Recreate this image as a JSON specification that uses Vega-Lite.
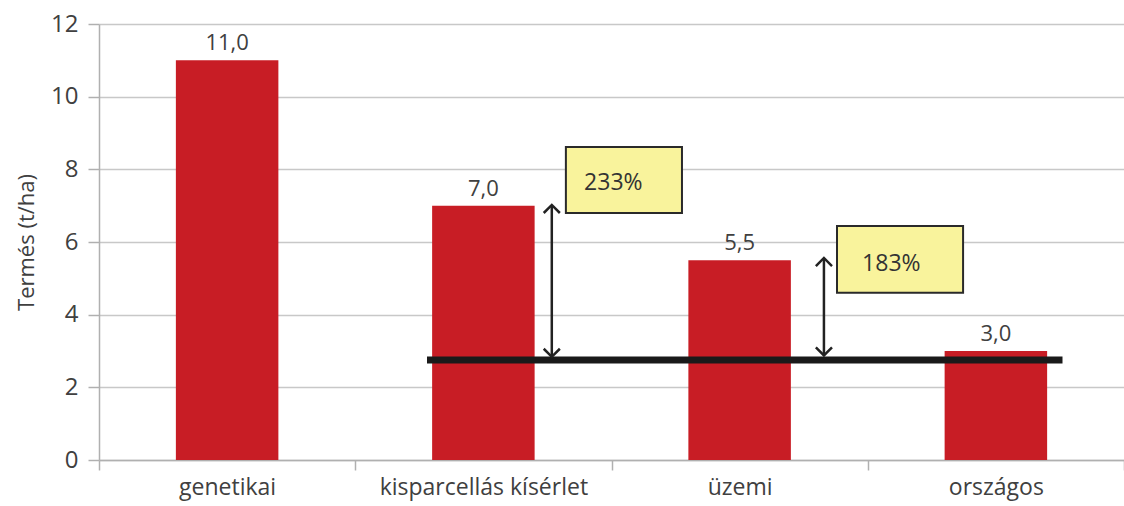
{
  "$schema": "https://vega.github.io/schema/vega-lite/v6.json",
  "width": 1025,
  "height": 436,
  "autosize": {"type": "none"},
  "padding": {"left": 99, "top": 24, "right": 0, "bottom": 46},
  "background": "white",
  "config": {
    "view": {"stroke": null},
    "font": "Open Sans",
    "axisY": {
      "titleFontSize": 22,
      "titleFontWeight": "normal",
      "titleColor": "#404040",
      "titlePadding": 12,
      "labelFontSize": 24,
      "labelColor": "#404040",
      "labelPadding": 10,
      "grid": true,
      "gridColor": "#c8c8c8",
      "gridWidth": 1.5,
      "domainColor": "#b0b0b0",
      "domainWidth": 1.5,
      "tickColor": "#b0b0b0",
      "tickWidth": 1.5,
      "tickSize": 11
    }
  },
  "datasets": {
    "oszlopok": [
      {"kategoria": "genetikai", "termes": 11.0, "felirat": "11,0"},
      {"kategoria": "kisparcellás kísérlet", "termes": 7.0, "felirat": "7,0"},
      {"kategoria": "üzemi", "termes": 5.5, "felirat": "5,5"},
      {"kategoria": "országos", "termes": 3.0, "felirat": "3,0"}
    ],
    "vonal": [{"x1": 1.28, "x2": 3.76, "y": 2.75}],
    "nyilak": [
      {"x": 1.767, "y1": 2.84, "y2": 7.02},
      {"x": 2.829, "y1": 2.88, "y2": 5.56}
    ],
    "nyilhegyek": [
      {"x": 1.767, "y": 7.02, "irany": "fel"},
      {"x": 1.767, "y": 2.84, "irany": "le"},
      {"x": 2.829, "y": 5.56, "irany": "fel"},
      {"x": 2.829, "y": 2.88, "irany": "le"}
    ],
    "dobozok": [
      {"x1": 1.822, "x2": 2.275, "y1": 6.8, "y2": 8.615, "szoveg": "233%", "tx": 1.893, "ty": 7.62},
      {"x1": 2.88, "x2": 3.372, "y1": 4.6, "y2": 6.44, "szoveg": "183%", "tx": 2.978, "ty": 5.39}
    ]
  },
  "resolve": {"scale": {"x": "independent"}, "axis": {"x": "independent"}},
  "layer": [
    {
      "data": {"name": "oszlopok"},
      "encoding": {
        "x": {
          "field": "kategoria",
          "type": "nominal",
          "sort": null,
          "scale": {"paddingInner": 0, "paddingOuter": 0},
          "axis": {
            "title": null,
            "labelAngle": 0,
            "labelLimit": 0,
            "tickBand": "extent",
            "labelFontSize": 23,
            "labelColor": "#404040",
            "labelPadding": 6,
            "domainColor": "#b0b0b0",
            "domainWidth": 1.5,
            "tickColor": "#b0b0b0",
            "tickWidth": 1.5,
            "tickSize": 10,
            "grid": false
          }
        },
        "y": {
          "field": "termes",
          "type": "quantitative",
          "title": "Termés (t/ha)",
          "scale": {"domain": [0, 12], "nice": false},
          "axis": {"values": [0, 2, 4, 6, 8, 10, 12]}
        }
      },
      "layer": [
        {"mark": {"type": "bar", "width": {"band": 0.4}, "color": "#c81d25"}},
        {
          "mark": {"type": "text", "baseline": "alphabetic", "dy": -10, "fontSize": 22, "color": "#404040"},
          "encoding": {"text": {"field": "felirat"}}
        }
      ]
    },
    {
      "data": {"name": "vonal"},
      "mark": {"type": "rule", "strokeWidth": 7, "color": "#1a1a1a"},
      "encoding": {
        "x": {"field": "x1", "type": "quantitative", "scale": {"domain": [0, 4], "nice": false, "zero": false}, "axis": null},
        "x2": {"field": "x2"},
        "y": {"field": "y", "type": "quantitative", "title": "Termés (t/ha)", "axis": {"values": [0, 2, 4, 6, 8, 10, 12]}}
      }
    },
    {
      "data": {"name": "nyilak"},
      "mark": {"type": "rule", "strokeWidth": 2.5, "color": "#222222"},
      "encoding": {
        "x": {"field": "x", "type": "quantitative", "scale": {"domain": [0, 4], "nice": false, "zero": false}, "axis": null},
        "y": {"field": "y1", "type": "quantitative", "title": "Termés (t/ha)", "axis": {"values": [0, 2, 4, 6, 8, 10, 12]}},
        "y2": {"field": "y2"}
      }
    },
    {
      "data": {"name": "nyilhegyek"},
      "mark": {"type": "point", "filled": false, "strokeWidth": 2.5, "color": "#222222", "opacity": 1, "size": 260},
      "encoding": {
        "x": {"field": "x", "type": "quantitative", "scale": {"domain": [0, 4], "nice": false, "zero": false}, "axis": null},
        "y": {"field": "y", "type": "quantitative", "title": "Termés (t/ha)", "axis": {"values": [0, 2, 4, 6, 8, 10, 12]}},
        "shape": {
          "field": "irany",
          "type": "nominal",
          "scale": {"domain": ["fel", "le"], "range": ["M-1,1L0,0L1,1", "M-1,-1L0,0L1,-1"]},
          "legend": null
        }
      }
    },
    {
      "data": {"name": "dobozok"},
      "mark": {"type": "rect", "fill": "#f9f39c", "stroke": "#2a2a2a", "strokeWidth": 2},
      "encoding": {
        "x": {"field": "x1", "type": "quantitative", "scale": {"domain": [0, 4], "nice": false, "zero": false}, "axis": null},
        "x2": {"field": "x2"},
        "y": {"field": "y1", "type": "quantitative", "title": "Termés (t/ha)", "axis": {"values": [0, 2, 4, 6, 8, 10, 12]}},
        "y2": {"field": "y2"}
      }
    },
    {
      "data": {"name": "dobozok"},
      "mark": {"type": "text", "align": "left", "baseline": "middle", "fontSize": 23, "color": "#333333"},
      "encoding": {
        "x": {"field": "tx", "type": "quantitative", "scale": {"domain": [0, 4], "nice": false, "zero": false}, "axis": null},
        "y": {"field": "ty", "type": "quantitative", "title": "Termés (t/ha)", "axis": {"values": [0, 2, 4, 6, 8, 10, 12]}},
        "text": {"field": "szoveg"}
      }
    }
  ]
}
